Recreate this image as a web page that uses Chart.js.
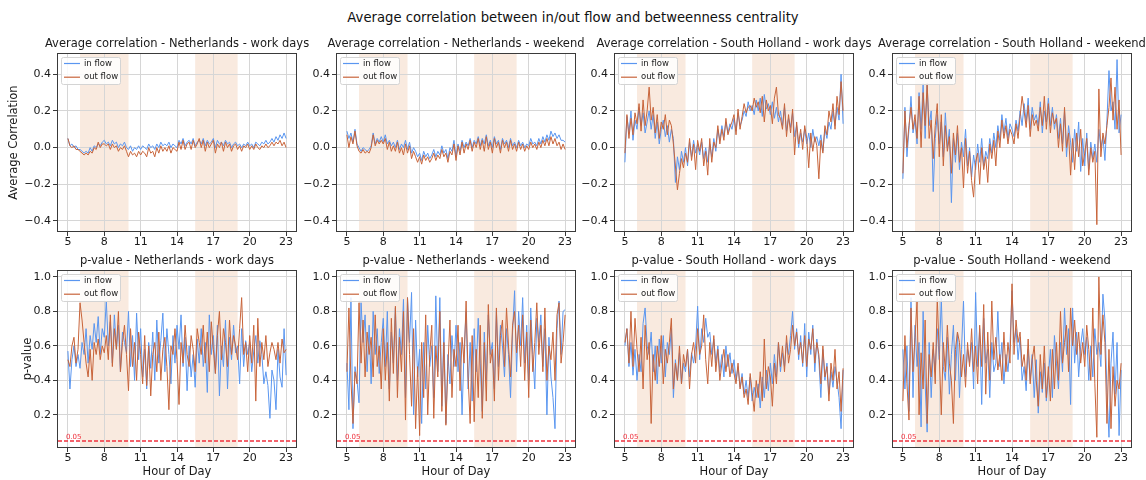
<!DOCTYPE html>
<html>
<head>
<meta charset="utf-8">
<script src="https://cdn.jsdelivr.net/npm/chart.js@4.4.1/dist/chart.umd.min.js"></script>
<style>
  html, body { margin: 0; padding: 0; background: #fff; }
  body { width: 1146px; height: 480px; position: relative; overflow: hidden; font-family: 'DejaVu Sans', sans-serif; }
  #suptitle { position: absolute; left: 0; width: 1146px; top: 10px; text-align: center; font-size: 13.2px; color: #111; }
  canvas { position: absolute; }
</style>
</head>
<body>
<div id="suptitle">Average correlation between in/out flow and betweenness centrality</div>
<script>
// --- data: one value every 10 minutes, 5:00 -> 23:00 (6 per row = 1 hour) ---
const startHour = 5;
const stepMinutes = 10;
const xTicks = [5, 8, 11, 14, 17, 20, 23];
const corrTicks = [-0.4, -0.2, 0.0, 0.2, 0.4];
const pTicks = [0.2, 0.4, 0.6, 0.8, 1.0];
const shadeSpans = [[6, 10], [15.5, 19]];
const pThreshold = 0.05;

const corrInNLWork = [
  0.05, 0.01, 0.02, 0.00, 0.01, -0.01,
  -0.01, -0.02, -0.03, -0.02, -0.03, 0.00,
  -0.02, 0.01, 0.00, 0.02, 0.01, 0.03,
  0.04, 0.02, 0.03, 0.01, 0.04, 0.02,
  0.03, 0.00, 0.02, 0.01, 0.03, 0.00,
  -0.01, 0.01, -0.02, 0.00, -0.01, 0.01,
  -0.01, 0.01, 0.00, -0.01, 0.02, 0.00,
  0.01, -0.01, 0.02, 0.00, 0.03, 0.01,
  0.02, 0.01, 0.03, 0.00, 0.02, 0.01,
  0.00, 0.04, 0.02, 0.05, 0.01, 0.03,
  0.04, 0.02, 0.05, 0.01, 0.03, 0.04,
  0.02, 0.05, 0.01, 0.04, 0.02, 0.03,
  0.05, 0.00, 0.04, 0.02, 0.03, 0.01,
  0.04, 0.02, 0.03, 0.00, 0.02, 0.03,
  0.01, 0.02, 0.00, 0.02, 0.01, 0.03,
  0.01, 0.02, 0.00, 0.03, 0.02, 0.01,
  0.03, 0.02, 0.04, 0.02, 0.03, 0.05,
  0.03, 0.06, 0.04, 0.07, 0.05, 0.08,
  0.05
];
const corrOutNLWork = [
  0.05, 0.01, 0.00, 0.01, -0.01, -0.01,
  -0.02, -0.03, -0.04, -0.03, -0.04, -0.02,
  -0.03, 0.00, -0.01, 0.03, 0.00, 0.02,
  0.02, 0.01, 0.02, -0.01, 0.02, 0.00,
  0.01, -0.02, 0.00, -0.01, 0.01, -0.02,
  -0.05, -0.02, -0.04, -0.03, -0.05, -0.02,
  -0.04, -0.02, -0.03, -0.05, 0.00, -0.03,
  -0.02, -0.05, 0.00, -0.03, 0.01, -0.02,
  0.00, -0.02, 0.01, -0.03, 0.00, -0.01,
  -0.02, 0.03, -0.01, 0.04, -0.01, 0.02,
  0.03, -0.01, 0.04, 0.00, 0.02, 0.05,
  0.00, 0.04, -0.02, 0.03, 0.00, 0.02,
  0.04, -0.03, 0.02, 0.00, 0.03, -0.02,
  0.03, 0.00, 0.02, -0.02, 0.01, 0.02,
  -0.01, 0.01, -0.02, 0.01, 0.00, 0.02,
  -0.01, 0.01, -0.01, 0.02, 0.00, -0.01,
  0.01, 0.00, 0.02, 0.00, 0.01, 0.03,
  0.01, 0.03, 0.02, 0.04, 0.01, 0.03,
  0.00
];
const corrInNLWeekend = [
  0.09, 0.05, 0.08, 0.03, 0.10, 0.02,
  0.00, -0.02, 0.00, -0.01, -0.02, -0.01,
  0.01, 0.08, 0.02, 0.05, 0.03, 0.06,
  0.03, 0.07, 0.02, 0.04, 0.01, 0.03,
  0.00, 0.04, -0.01, 0.02, 0.00, 0.04,
  -0.01, 0.03, -0.03, 0.00, -0.02, -0.05,
  -0.03, -0.07, -0.02, -0.05, -0.03, -0.06,
  -0.04, -0.01, -0.05, -0.02, -0.04, 0.01,
  -0.03, -0.01, -0.06, 0.00, -0.02, 0.04,
  -0.05, 0.02, -0.02, 0.04, 0.00, 0.03,
  0.01, 0.05, 0.00, 0.04, 0.02, 0.06,
  0.01, 0.05, 0.02, 0.07, 0.01, 0.04,
  0.00, 0.06, 0.02, 0.04, -0.01, 0.05,
  0.02, 0.04, 0.00, 0.05, 0.01, 0.03,
  0.00, 0.04, 0.01, 0.03, 0.00, 0.02,
  0.01, 0.05, 0.02, 0.03, 0.01, 0.05,
  0.02, 0.06, 0.03, 0.07, 0.04, 0.09,
  0.06, 0.08, 0.05, 0.07, 0.04, 0.04,
  0.03
];
const corrOutNLWeekend = [
  0.07, 0.00, 0.06, 0.02, 0.09, 0.01,
  -0.02, -0.03, -0.01, -0.03, -0.02, -0.03,
  0.00, 0.07, 0.01, 0.04, 0.02, 0.04,
  0.02, 0.05, -0.01, 0.03, -0.02, 0.01,
  -0.02, 0.03, -0.03, 0.00, -0.04, 0.02,
  -0.03, 0.01, -0.06, -0.02, -0.05, -0.08,
  -0.05, -0.09, -0.04, -0.07, -0.05, -0.08,
  -0.06, -0.03, -0.07, -0.04, -0.06, -0.01,
  -0.05, -0.03, -0.08, -0.02, -0.04, 0.02,
  -0.07, 0.01, -0.04, 0.03, -0.03, 0.02,
  -0.01, 0.04, -0.02, 0.03, 0.00, 0.05,
  -0.01, 0.04, -0.02, 0.06, -0.01, 0.03,
  -0.03, 0.05, 0.00, 0.03, -0.03, 0.04,
  0.00, 0.03, -0.02, 0.04, -0.01, 0.02,
  -0.02, 0.03, -0.01, 0.02, -0.02, 0.01,
  -0.01, 0.03, 0.00, 0.02, -0.01, 0.03,
  0.00, 0.04, 0.01, 0.05, 0.01, 0.06,
  0.02, 0.05, 0.01, 0.03, -0.01, 0.02,
  -0.01
];
const corrInSHWork = [
  -0.08, 0.17, 0.08, 0.20, 0.04, 0.15,
  0.10, 0.22, 0.12, 0.19, 0.08, 0.14,
  0.20, 0.10, 0.18, 0.05, 0.14, 0.02,
  0.10, 0.15, 0.06, 0.12, 0.03, 0.10,
  0.05, -0.19, -0.05, -0.12, -0.02, -0.08,
  0.00, -0.10, 0.03, -0.05, 0.04, -0.03,
  0.02, -0.04, 0.03, -0.06, 0.00, -0.08,
  0.02, -0.05, 0.05, -0.02, 0.10, 0.04,
  0.12, 0.06, 0.14, 0.08, 0.13, 0.10,
  0.16, 0.09, 0.19, 0.12, 0.15, 0.20,
  0.17, 0.25, 0.20, 0.23, 0.18, 0.26,
  0.20, 0.27, 0.17, 0.29, 0.21, 0.24,
  0.18, 0.25, 0.16, 0.22, 0.14, 0.20,
  0.12, 0.22, 0.09, 0.16, 0.11, 0.19,
  0.06, 0.12, 0.00, 0.08, 0.03, 0.10,
  0.02, 0.08, 0.00, 0.10, 0.03, 0.06,
  0.01, 0.07, -0.02, 0.10, 0.05, 0.14,
  0.10, 0.20, 0.12, 0.22, 0.15, 0.40,
  0.13
];
const corrOutSHWork = [
  -0.03, 0.18, 0.05, 0.16, 0.07, 0.19,
  0.13, 0.24, 0.09, 0.26, 0.12, 0.20,
  0.33, 0.15, 0.22, 0.08, 0.18, 0.05,
  0.14, 0.10, 0.18, 0.07, 0.15, 0.12,
  0.02, -0.10, -0.23, -0.14, -0.06, -0.11,
  -0.03, -0.08, 0.05, -0.07, 0.02, -0.12,
  0.04, -0.02, 0.05, -0.10, -0.02, -0.15,
  0.05, -0.08, 0.03, 0.00, 0.12, 0.02,
  0.10, 0.04, 0.16, 0.07, 0.11, 0.14,
  0.18, 0.07, 0.21, 0.10, 0.17, 0.24,
  0.19, 0.22, 0.23, 0.20, 0.27, 0.22,
  0.25, 0.19, 0.28, 0.14, 0.26, 0.20,
  0.23, 0.13, 0.27, 0.33, 0.18, 0.16,
  0.10, 0.24, 0.06, 0.18, 0.08, 0.21,
  -0.04, 0.14, 0.02, 0.10, -0.01, 0.12,
  0.05, -0.11, 0.08, -0.02, 0.06, 0.01,
  -0.17, 0.04, -0.03, 0.12, 0.07, 0.20,
  0.14, 0.24, 0.10, 0.28, 0.18, 0.36,
  0.20
];
const corrInSHWeekend = [
  -0.17, 0.22, -0.05, 0.10, 0.28, 0.08,
  0.15, 0.02, 0.30, 0.10, 0.35, 0.05,
  0.34, 0.12, 0.20, -0.24, 0.05, 0.18,
  0.02, 0.14, -0.05, 0.19, 0.00, 0.10,
  -0.30, 0.05, -0.08, 0.08, -0.12, 0.03,
  -0.05, 0.10, -0.10, 0.00, -0.16, -0.04,
  -0.12, 0.02, -0.08, 0.05, -0.10, -0.02,
  -0.06, 0.05, -0.03, 0.08, 0.00, 0.12,
  0.04, 0.18, 0.08, 0.16, 0.05, 0.13,
  0.10, 0.06, 0.15, 0.09, 0.20, 0.12,
  0.24, 0.14, 0.27, 0.10, 0.22, 0.15,
  0.18, 0.12, 0.25, 0.08, 0.20, 0.14,
  0.27, 0.12, 0.22, 0.10, 0.18, 0.05,
  0.16, 0.02, 0.20, -0.05, 0.12, 0.03,
  -0.08, 0.10, -0.02, 0.14, -0.13, 0.05,
  -0.10, 0.08, -0.12, 0.03, -0.06, 0.02,
  -0.08, 0.10, 0.00, 0.06, -0.07, 0.15,
  0.42, 0.20, 0.25, 0.10, 0.48, 0.08,
  0.18
];
const corrOutSHWeekend = [
  -0.14, 0.20, 0.00, 0.12, 0.22, 0.10,
  0.18, 0.05, 0.28, 0.00, 0.30, 0.12,
  0.35, 0.05, 0.15, -0.06, 0.12, 0.24,
  -0.05, 0.18, -0.10, 0.12, -0.02, 0.06,
  -0.14, 0.08, -0.04, 0.12, -0.08, 0.00,
  -0.22, 0.05, -0.14, -0.02, -0.18, -0.27,
  -0.08, -0.03, -0.20, 0.00, -0.12, -0.05,
  -0.19, 0.02, -0.06, 0.04, -0.10, 0.09,
  0.00, 0.15, 0.05, 0.12, 0.02, 0.10,
  0.07, 0.02, 0.13, 0.05, 0.17, 0.28,
  0.20, 0.11, 0.23, 0.06, 0.18, 0.12,
  0.15, 0.09, 0.22, 0.12, 0.28, 0.10,
  0.24, 0.08, 0.19, 0.13, 0.16, 0.00,
  0.13, -0.02, 0.22, 0.00, 0.08, -0.15,
  0.05, -0.12, 0.08, -0.05, 0.10, -0.10,
  -0.03, 0.05, -0.15, 0.00, -0.08, -0.02,
  -0.42, 0.32, -0.05, 0.08, 0.02, 0.12,
  0.22, 0.38, 0.15, 0.33, 0.10, 0.26,
  -0.04
];
const pInNLWork = [
  0.57, 0.35, 0.52, 0.60, 0.48, 0.55,
  0.47, 0.62, 0.55, 0.70, 0.50, 0.66,
  0.58, 0.73, 0.62, 0.77, 0.55, 0.70,
  0.65, 0.86, 0.60, 0.74, 0.50, 0.78,
  0.58, 0.72, 0.45, 0.68, 0.62, 0.56,
  0.80, 0.48, 0.66, 0.40, 0.79, 0.52,
  0.70, 0.42, 0.58, 0.35, 0.62, 0.47,
  0.68, 0.40, 0.75, 0.50, 0.63, 0.79,
  0.45, 0.70, 0.55, 0.38, 0.66, 0.50,
  0.72, 0.58, 0.78, 0.48, 0.65, 0.34,
  0.60, 0.42, 0.55, 0.36, 0.64, 0.50,
  0.70, 0.48, 0.62, 0.33, 0.78, 0.55,
  0.66, 0.44, 0.72, 0.31, 0.60, 0.48,
  0.75, 0.35, 0.65, 0.52, 0.72, 0.56,
  0.60, 0.38, 0.70, 0.48, 0.63, 0.55,
  0.62, 0.45, 0.57, 0.66, 0.50, 0.63,
  0.55, 0.38, 0.45, 0.37, 0.18, 0.46,
  0.40, 0.23, 0.58, 0.42, 0.36, 0.70,
  0.43
];
const pOutNLWork = [
  0.52, 0.48, 0.60, 0.65, 0.50, 0.58,
  0.85, 0.75, 0.62, 0.50, 0.42, 0.58,
  0.40, 0.62, 0.55, 0.64, 0.52, 0.60,
  0.56, 0.66, 0.52, 0.78, 0.48, 0.70,
  0.58, 0.80, 0.45, 0.62, 0.72, 0.55,
  0.34, 0.70, 0.48, 0.62, 0.40, 0.68,
  0.55, 0.38, 0.66, 0.37, 0.60, 0.31,
  0.55, 0.62, 0.45, 0.68, 0.40, 0.58,
  0.65, 0.48, 0.23, 0.60, 0.55, 0.70,
  0.52, 0.26, 0.62, 0.50, 0.72, 0.55,
  0.48, 0.66, 0.58, 0.45, 0.70, 0.62,
  0.55, 0.72, 0.50, 0.68, 0.45, 0.74,
  0.58, 0.44, 0.66, 0.80, 0.52, 0.70,
  0.62, 0.48, 0.75, 0.55, 0.66, 0.60,
  0.52, 0.70, 0.88, 0.55, 0.62, 0.45,
  0.66, 0.50, 0.72, 0.28, 0.76, 0.48,
  0.62, 0.52, 0.66, 0.48, 0.56, 0.62,
  0.58, 0.52, 0.62, 0.50, 0.64, 0.56,
  0.58
];
const pInNLWeekend = [
  0.50, 0.23, 0.88, 0.12, 0.48, 0.40,
  0.27, 0.85, 0.62, 0.78, 0.45, 0.72,
  0.38, 0.80, 0.55, 0.70, 0.44, 0.62,
  0.76, 0.48, 0.80, 0.35, 0.68, 0.50,
  0.82, 0.40, 0.70, 0.55, 0.87, 0.30,
  0.88, 0.62, 0.91, 0.20, 0.75, 0.42,
  0.58, 0.15, 0.62, 0.35, 0.72, 0.48,
  0.60, 0.30, 0.89, 0.45, 0.88, 0.25,
  0.70, 0.15, 0.55, 0.38, 0.66, 0.48,
  0.72, 0.45, 0.62, 0.20, 0.58, 0.80,
  0.35, 0.62, 0.28, 0.70, 0.45, 0.76,
  0.50, 0.22, 0.68, 0.40, 0.78, 0.55,
  0.62, 0.35, 0.80, 0.48, 0.72, 0.60,
  0.42, 0.70, 0.55, 0.30, 0.68, 0.92,
  0.45, 0.80, 0.60, 0.88, 0.50, 0.72,
  0.40, 0.82, 0.55, 0.35, 0.76, 0.62,
  0.78, 0.48, 0.70, 0.20, 0.65, 0.42,
  0.30, 0.12, 0.70, 0.86, 0.55, 0.80,
  0.81
];
const pOutNLWeekend = [
  0.45, 0.82, 0.40, 0.15, 0.45, 0.38,
  0.85, 0.50, 0.75, 0.42, 0.68, 0.55,
  0.65, 0.42, 0.78, 0.48, 0.60, 0.35,
  0.70, 0.40, 0.62, 0.28, 0.76, 0.44,
  0.83, 0.30, 0.65, 0.45, 0.80, 0.17,
  0.88, 0.55, 0.25, 0.70, 0.12, 0.48,
  0.08, 0.62, 0.30, 0.78, 0.20, 0.55,
  0.72, 0.18, 0.60, 0.42, 0.80, 0.22,
  0.62, 0.14, 0.48, 0.75, 0.30, 0.58,
  0.48, 0.72, 0.34, 0.65, 0.50, 0.86,
  0.42, 0.15, 0.66, 0.16, 0.58, 0.30,
  0.72, 0.18, 0.62, 0.28, 0.84, 0.50,
  0.58, 0.28, 0.82, 0.40, 0.66, 0.75,
  0.48, 0.82, 0.60, 0.42, 0.72, 0.80,
  0.56, 0.72, 0.48, 0.78, 0.40, 0.68,
  0.30, 0.75, 0.45, 0.62, 0.85, 0.55,
  0.72, 0.45, 0.82, 0.40, 0.60, 0.52,
  0.68, 0.40, 0.78, 0.85, 0.50, 0.62,
  0.78
];
const pInSHWork = [
  0.60, 0.70, 0.48, 0.62, 0.43, 0.58,
  0.40, 0.55, 0.45, 0.73, 0.82, 0.60,
  0.55, 0.68, 0.45, 0.60, 0.38, 0.64,
  0.50, 0.66, 0.42, 0.62, 0.55, 0.70,
  0.30, 0.52, 0.40, 0.56, 0.38, 0.50,
  0.45, 0.58, 0.42, 0.56, 0.50, 0.60,
  0.83, 0.52, 0.70, 0.62, 0.76, 0.65,
  0.68, 0.55, 0.64, 0.50, 0.60, 0.45,
  0.55, 0.42, 0.60, 0.48, 0.56, 0.44,
  0.52, 0.40, 0.48, 0.36, 0.44, 0.32,
  0.40, 0.30, 0.42, 0.28, 0.36, 0.30,
  0.38, 0.24, 0.42, 0.30, 0.46, 0.34,
  0.50, 0.38, 0.55, 0.42, 0.62, 0.45,
  0.56, 0.48, 0.62, 0.55, 0.66, 0.80,
  0.58, 0.70, 0.52, 0.66, 0.48, 0.73,
  0.42, 0.68, 0.55, 0.72, 0.45, 0.64,
  0.52, 0.30, 0.58, 0.40, 0.50, 0.32,
  0.45, 0.36, 0.48, 0.40, 0.30, 0.12,
  0.46
];
const pOutSHWork = [
  0.62, 0.70, 0.50, 0.80, 0.48, 0.76,
  0.58, 0.45, 0.65, 0.35, 0.72, 0.52,
  0.62, 0.15, 0.55, 0.40, 0.60, 0.48,
  0.66, 0.38, 0.58, 0.50, 0.62, 0.76,
  0.35, 0.50, 0.40, 0.60, 0.38, 0.55,
  0.48, 0.58, 0.35, 0.55, 0.62, 0.50,
  0.70, 0.55, 0.60, 0.78, 0.52, 0.38,
  0.62, 0.48, 0.66, 0.45, 0.58, 0.40,
  0.50, 0.58, 0.45, 0.55, 0.42, 0.50,
  0.44, 0.38, 0.50, 0.35, 0.42, 0.30,
  0.35, 0.26, 0.44, 0.33, 0.22, 0.40,
  0.30, 0.45, 0.28, 0.64, 0.35, 0.48,
  0.42, 0.25, 0.50, 0.38, 0.62, 0.48,
  0.60, 0.45, 0.66, 0.50, 0.58, 0.72,
  0.60, 0.68, 0.55, 0.62, 0.50, 0.66,
  0.48, 0.64, 0.58, 0.70, 0.50, 0.62,
  0.55, 0.38, 0.60, 0.42, 0.48, 0.28,
  0.50, 0.40, 0.58, 0.35, 0.45, 0.22,
  0.47
];
const pInSHWeekend = [
  0.58, 0.35, 0.60, 0.22, 0.88, 0.30,
  0.72, 0.48, 0.62, 0.13, 0.80, 0.38,
  0.10, 0.62, 0.30, 0.58, 0.45, 0.70,
  0.52, 0.88, 0.48, 0.40, 0.65, 0.32,
  0.55, 0.72, 0.40, 0.68, 0.30, 0.58,
  0.86, 0.42, 0.58, 0.50, 0.62, 0.35,
  0.91, 0.48, 0.70, 0.26, 0.76, 0.50,
  0.58, 0.30, 0.62, 0.45, 0.50, 0.80,
  0.48, 0.62, 0.38, 0.55, 0.45, 0.60,
  0.92, 0.62, 0.70, 0.52, 0.65, 0.40,
  0.48, 0.34, 0.58, 0.40, 0.55, 0.30,
  0.52, 0.21, 0.45, 0.33, 0.50, 0.28,
  0.42, 0.58, 0.30, 0.66, 0.50, 0.35,
  0.62, 0.45, 0.82, 0.55, 0.70, 0.26,
  0.82, 0.50, 0.68, 0.42, 0.60, 0.70,
  0.55, 0.65, 0.40, 0.60, 0.42, 0.70,
  0.55, 0.62, 0.48, 0.90, 0.75, 0.33,
  0.07, 0.50, 0.68, 0.32, 0.62, 0.08,
  0.46
];
const pOutSHWeekend = [
  0.28, 0.66, 0.38, 0.17, 0.82, 0.45,
  0.65, 0.86, 0.20, 0.56, 0.35, 0.75,
  0.15, 0.55, 0.42, 0.62, 0.38, 0.88,
  0.55, 0.20, 0.62, 0.45, 0.72, 0.50,
  0.40, 0.15, 0.58, 0.68, 0.62, 0.42,
  0.55, 0.36, 0.62, 0.48, 0.70, 0.45,
  0.60, 0.38, 0.72, 0.48, 0.84, 0.32,
  0.68, 0.40, 0.86, 0.52, 0.65, 0.46,
  0.55, 0.40, 0.68, 0.45, 0.62, 0.50,
  0.96, 0.55, 0.75, 0.62, 0.68, 0.48,
  0.55, 0.40, 0.64, 0.38, 0.52, 0.60,
  0.40, 0.25, 0.55, 0.35, 0.60, 0.30,
  0.48, 0.28, 0.58, 0.35, 0.62, 0.40,
  0.80, 0.50, 0.62, 0.72, 0.45, 0.82,
  0.60, 0.75, 0.55, 0.68, 0.50, 0.62,
  0.48, 0.72, 0.58, 0.40, 0.82, 0.38,
  0.07, 1.00, 0.55, 0.78, 0.62, 0.15,
  0.58, 0.12, 0.48, 0.25, 0.40, 0.35,
  0.50
];

const hours = corrInNLWork.map((_, i) => startHour + i * stepMinutes / 60);

// --- panels ---
const panels = [
  { title: 'Average correlation - Netherlands - work days', inFlow: corrInNLWork, outFlow: corrOutNLWork, kind: 'corr', col: 0 },
  { title: 'Average correlation - Netherlands - weekend', inFlow: corrInNLWeekend, outFlow: corrOutNLWeekend, kind: 'corr', col: 1 },
  { title: 'Average correlation - South Holland - work days', inFlow: corrInSHWork, outFlow: corrOutSHWork, kind: 'corr', col: 2 },
  { title: 'Average correlation - South Holland - weekend', inFlow: corrInSHWeekend, outFlow: corrOutSHWeekend, kind: 'corr', col: 3 },
  { title: 'p-value - Netherlands - work days', inFlow: pInNLWork, outFlow: pOutNLWork, kind: 'p', col: 0 },
  { title: 'p-value - Netherlands - weekend', inFlow: pInNLWeekend, outFlow: pOutNLWeekend, kind: 'p', col: 1 },
  { title: 'p-value - South Holland - work days', inFlow: pInSHWork, outFlow: pOutSHWork, kind: 'p', col: 2 },
  { title: 'p-value - South Holland - weekend', inFlow: pInSHWeekend, outFlow: pOutSHWeekend, kind: 'p', col: 3 }
];

// layout (pixels)
const colLeft = [57, 336, 614, 892];
const plotW = 240;
const rowBox = {
  corr: { top: 53, bottom: 232, xAxisH: 20, yMin: -0.46, yMax: 0.516, ticks: corrTicks, yLabel: 'Average Correlation', yLabelPad: 7 },
  p:    { top: 270, bottom: 448, xAxisH: 32, yMin: 0.008, yMax: 1.04, ticks: pTicks, yLabel: 'p-value', yLabelPad: 21 }
};
const titleH = 22;
const rightPad = 30;

const IN_COLOR = '#5a96f0';
const OUT_COLOR = '#c8643a';
const THRESH_COLOR = '#f0303c';
const TEXT = '#1a1a1a';

Chart.defaults.font.family = "'DejaVu Sans', sans-serif";
Chart.defaults.color = TEXT;

// shaded periods, drawn under the grid
const shadePlugin = {
  id: 'shade',
  beforeDraw(chart) {
    const { ctx, chartArea: a, scales: { x } } = chart;
    ctx.save();
    ctx.fillStyle = '#f9eadf';
    shadeSpans.forEach(([s, e]) => {
      const x0 = x.getPixelForValue(s), x1 = x.getPixelForValue(e);
      ctx.fillRect(x0, a.top, x1 - x0, a.bottom - a.top);
    });
    ctx.restore();
  }
};

// panel title, frame, 0.05 line and legend
const overlayPlugin = {
  id: 'overlay',
  afterDatasetsDraw(chart, args, opts) {
    const { ctx, chartArea: a, scales: { x, y } } = chart;
    ctx.save();
    if (opts.threshold) {
      const yy = Math.round(y.getPixelForValue(pThreshold));
      ctx.strokeStyle = THRESH_COLOR;
      ctx.lineWidth = 1.4;
      ctx.setLineDash([4, 2]);
      ctx.beginPath(); ctx.moveTo(a.left + 1, yy); ctx.lineTo(a.right - 1, yy); ctx.stroke();
      ctx.setLineDash([]);
      ctx.fillStyle = THRESH_COLOR;
      ctx.font = "7px 'DejaVu Sans'";
      ctx.textBaseline = 'alphabetic';
      ctx.fillText(pThreshold.toFixed(2), x.getPixelForValue(5) - 2, yy - 2.5);
    }
    // legend box
    const lx = a.left + 4, ly = a.top + 4, lw = 59, lh = 27;
    ctx.fillStyle = 'rgba(255,255,255,0.85)';
    ctx.strokeStyle = '#d4d4d4';
    ctx.lineWidth = 1;
    ctx.beginPath();
    ctx.roundRect(lx + 0.5, ly + 0.5, lw, lh, 2);
    ctx.fill(); ctx.stroke();
    ctx.font = "8.5px 'DejaVu Sans'";
    ctx.textBaseline = 'middle';
    ctx.textAlign = 'left';
    chart.data.datasets.forEach((ds, i) => {
      const cy = ly + 6.5 + i * 13.7;
      ctx.strokeStyle = ds.borderColor;
      ctx.lineWidth = 1.2;
      ctx.beginPath(); ctx.moveTo(lx + 3, cy); ctx.lineTo(lx + 19, cy); ctx.stroke();
      ctx.fillStyle = TEXT;
      ctx.fillText(ds.label, lx + 23, cy);
    });
    // axes frame
    ctx.strokeStyle = '#3a3a3a';
    ctx.lineWidth = 1;
    ctx.strokeRect(Math.round(a.left) + 0.5, Math.round(a.top) + 0.5, Math.round(a.right - a.left) - 1, Math.round(a.bottom - a.top) - 1);
    // panel title, centred on the plot area
    ctx.fillStyle = TEXT;
    ctx.font = "11.5px 'DejaVu Sans'";
    ctx.textAlign = 'center';
    ctx.textBaseline = 'alphabetic';
    ctx.fillText(opts.title, (a.left + a.right) / 2, a.top - 6);
    ctx.restore();
  }
};

function fmtTick(v) {
  if (Math.abs(v) < 1e-9) return '0.0';
  return v < 0 ? '\u2212' + Math.abs(v).toFixed(1) : v.toFixed(1);
}

panels.forEach(p => {
  const box = rowBox[p.kind];
  const yAxisW = p.col === 0 ? 57 : 40;
  const canvas = document.createElement('canvas');
  canvas.width = yAxisW + plotW + rightPad;
  canvas.height = titleH + (box.bottom - box.top) + box.xAxisH;
  canvas.style.left = (colLeft[p.col] - yAxisW) + 'px';
  canvas.style.top = (box.top - titleH) + 'px';
  document.body.appendChild(canvas);

  new Chart(canvas, {
    type: 'line',
    data: {
      datasets: [
        { label: 'in flow', data: hours.map((h, i) => ({ x: h, y: p.inFlow[i] })), borderColor: IN_COLOR, borderWidth: 1, pointRadius: 0, order: 2 },
        { label: 'out flow', data: hours.map((h, i) => ({ x: h, y: p.outFlow[i] })), borderColor: OUT_COLOR, borderWidth: 1, pointRadius: 0, order: 1 }
      ]
    },
    options: {
      responsive: false,
      animation: false,
      devicePixelRatio: 1,
      events: [],
      layout: { padding: { left: 0, right: rightPad, top: titleH, bottom: 0 } },
      scales: {
        x: {
          type: 'linear', min: 4.1, max: 23.9,
          afterBuildTicks: s => { s.ticks = xTicks.map(v => ({ value: v })); },
          afterFit: s => { s.height = box.xAxisH; },
          ticks: { font: { size: 11 }, padding: 0, color: TEXT, maxRotation: 0, callback: v => String(v) },
          grid: { color: '#d6d6d6', tickColor: '#3a3a3a', tickLength: 4 },
          border: { display: false },
          title: { display: p.kind === 'p', text: 'Hour of Day', font: { size: 11.5 }, color: TEXT, padding: { top: 0, bottom: 1 } }
        },
        y: {
          min: box.yMin, max: box.yMax,
          afterBuildTicks: s => { s.ticks = box.ticks.map(v => ({ value: v })); },
          afterFit: s => { s.width = yAxisW; },
          ticks: { font: { size: 11 }, padding: 2, color: TEXT, callback: fmtTick },
          grid: { color: '#d6d6d6', tickColor: '#3a3a3a', tickLength: 4 },
          border: { display: false },
          title: { display: p.col === 0, text: box.yLabel, font: { size: 11.5 }, color: TEXT, padding: { top: box.yLabelPad, bottom: 0 } }
        }
      },
      plugins: {
        legend: { display: false },
        tooltip: { enabled: false },
        title: { display: false },
        overlay: { threshold: p.kind === 'p', title: p.title }
      }
    },
    plugins: [shadePlugin, overlayPlugin]
  });
});
</script>
</body>
</html>
